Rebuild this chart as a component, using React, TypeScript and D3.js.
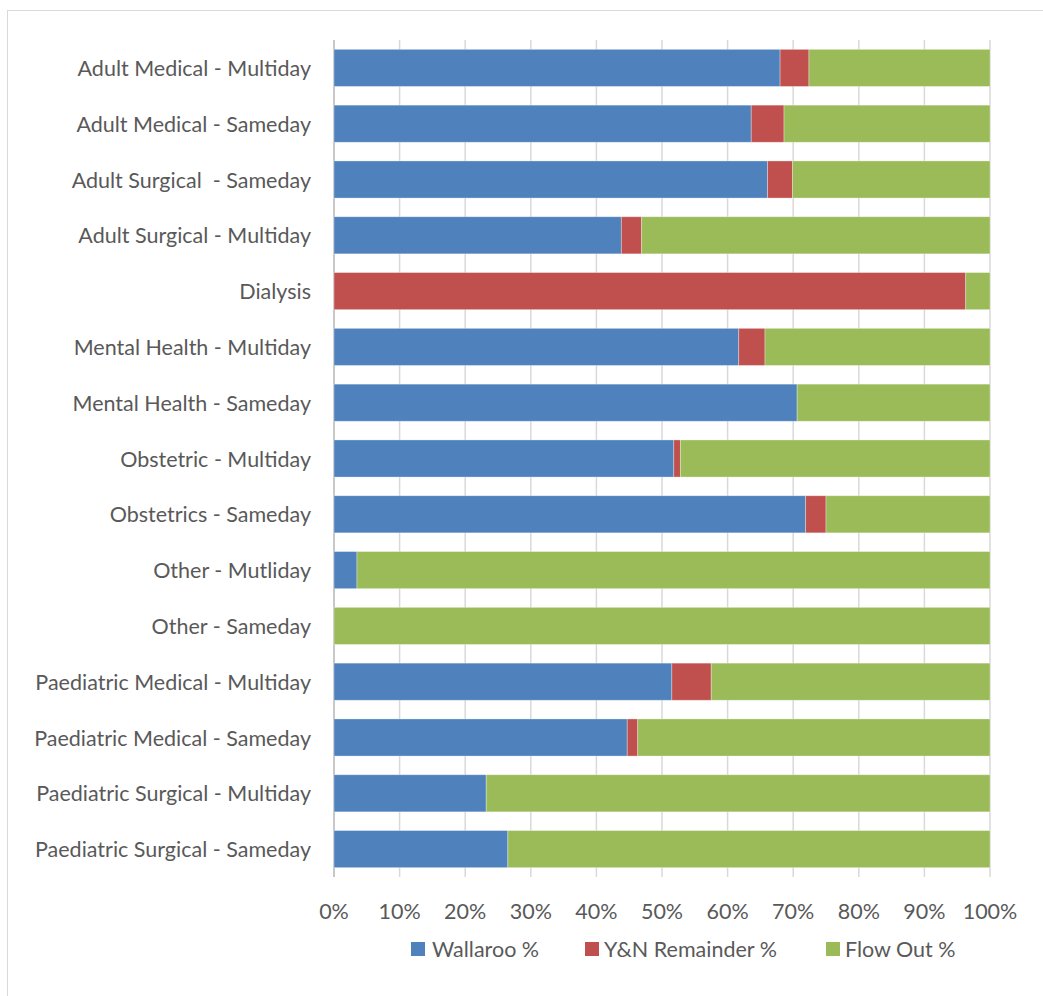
import React from "react";
import * as d3 from "d3";

const categories = [
  "Adult Medical - Multiday",
  "Adult Medical - Sameday",
  "Adult Surgical  - Sameday",
  "Adult Surgical - Multiday",
  "Dialysis",
  "Mental Health - Multiday",
  "Mental Health - Sameday",
  "Obstetric - Multiday",
  "Obstetrics - Sameday",
  "Other - Mutliday",
  "Other - Sameday",
  "Paediatric Medical - Multiday",
  "Paediatric Medical - Sameday",
  "Paediatric Surgical - Multiday",
  "Paediatric Surgical - Sameday",
];

const wallaroo = [68.0, 63.6, 66.1, 43.8, 0, 61.7, 70.6, 51.8, 71.9, 3.5, 0, 51.5, 44.7, 23.2, 26.5];
const ynRemainder = [4.4, 5.0, 3.8, 3.1, 96.3, 4.0, 0, 1.0, 3.1, 0, 0, 6.0, 1.6, 0, 0];
const flowOut = categories.map((_, i) => 100 - wallaroo[i] - ynRemainder[i]);

const seriesNames = ["Wallaroo %", "Y&N Remainder %", "Flow Out %"];
const seriesColors = ["#4F81BD", "#C0504D", "#9BBB59"];
const tickValues = [0, 10, 20, 30, 40, 50, 60, 70, 80, 90, 100];

export default function App() {
  const W = 1043;
  const H = 996;
  const left = 334;
  const right = 990;
  const top = 40;
  const bottom = 877;
  const font = "Lato, 'Open Sans', sans-serif";
  const fs = 21.5;
  const textColor = "#595959";

  const x = d3.scaleLinear().domain([0, 100]).range([left, right]);
  const y = d3.scaleBand<string>().domain(categories).range([top, bottom]).paddingInner(0.335).paddingOuter(0.1675);

  const rows = categories.map((c, i) => ({ cat: c, w: wallaroo[i], r: ynRemainder[i], f: flowOut[i] }));
  const stack = d3.stack<any>().keys(["w", "r", "f"]);
  const stacked = stack(rows);

  return (
    <svg width={W} height={H} style={{ position: "absolute", left: 0, top: 0, background: "#fff" }}>
      <rect x={7.5} y={10.5} width={W + 10} height={H + 10} fill="#fff" stroke="#d9d9d9" strokeWidth={1} />
      {tickValues.map((t) => (
        <line key={"g" + t} x1={x(t)} x2={x(t)} y1={top} y2={bottom} stroke="#d9d9d9" strokeWidth={1.5} />
      ))}
      <line x1={left} x2={left} y1={top} y2={bottom} stroke="#bfbfbf" strokeWidth={1.5} />
      {stacked.map((s, si) => (
        <g key={si} fill={seriesColors[si]}>
          {s.map((d, i) =>
            d[1] - d[0] > 0 ? (
              <rect
                key={i}
                x={x(d[0])}
                y={y(categories[i])}
                width={x(d[1]) - x(d[0])}
                height={y.bandwidth()}
                stroke="#ffffff"
                strokeOpacity={0.4}
                strokeWidth={0.8}
              />
            ) : null
          )}
        </g>
      ))}
      {categories.map((c) => (
        <text
          key={c}
          x={311}
          y={(y(c) as number) + y.bandwidth() / 2}
          textAnchor="end"
          dominantBaseline="central"
          fontFamily={font}
          fontSize={fs}
          fill={textColor}
          style={{ whiteSpace: "pre" }}
        >
          {c}
        </text>
      ))}
      {tickValues.map((t) => (
        <text
          key={"t" + t}
          x={x(t)}
          y={911}
          textAnchor="middle"
          dominantBaseline="central"
          fontFamily={font}
          fontSize={fs}
          fill={textColor}
        >
          {t + "%"}
        </text>
      ))}
      {[
        { sx: 411, tx: 432 },
        { sx: 585, tx: 604 },
        { sx: 826, tx: 845 },
      ].map((p, i) => (
        <g key={"l" + i}>
          <rect x={p.sx} y={942} width={14} height={14} fill={seriesColors[i]} />
          <text x={p.tx} y={949} dominantBaseline="central" fontFamily={font} fontSize={fs} fill={textColor}>
            {seriesNames[i]}
          </text>
        </g>
      ))}
    </svg>
  );
}
